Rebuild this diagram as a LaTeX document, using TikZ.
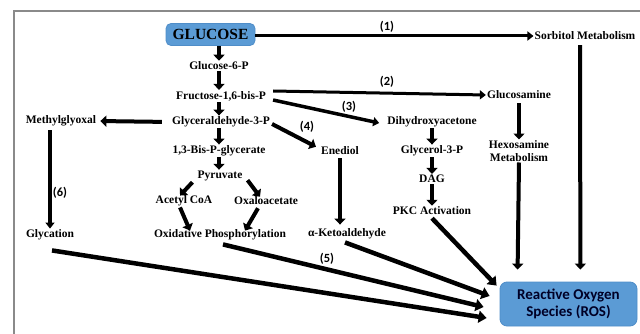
\documentclass[tikz,border=0pt]{standalone}
\usepackage{fontspec}
\setmainfont{Liberation Serif}
\newfontfamily\labfont{Carlito}
\usetikzlibrary{arrows.meta,calc}
\definecolor{boxblue}{HTML}{5B9BD5}
\definecolor{boxedge}{HTML}{4F8DC8}
\definecolor{framegray}{HTML}{8A8A8A}
\begin{document}
\begin{tikzpicture}[x=1pt,y=-1pt,
  txt/.style={font=\bfseries\fontsize{11.5}{12.5}\selectfont, inner sep=1pt, align=center},
  num/.style={font=\labfont\bfseries\fontsize{12.5}{13}\selectfont, inner sep=0pt},
  bluebox/.style={fill=boxblue, draw=boxedge, line width=0.8pt},
  bigarrow/.style={line width=4pt, -{Triangle[length=6pt,width=11pt]}},
  longarrow/.style={line width=3pt, -{Triangle[length=6pt,width=9pt]}},
  rosarrow/.style={line width=4.5pt, -{Triangle[length=8pt,width=12pt]}},
]
\useasboundingbox (0,0) rectangle (640,334);
\draw[framegray, line width=2pt] (14,334) -- (14,11) -- (641,11);

% nodes
\node[bluebox, rounded corners=5pt, minimum width=89pt, minimum height=22pt,
      font=\bfseries\fontsize{15.5}{17}\selectfont] (glc) at (210.5,34.5) {GLUCOSE};
\node[txt] (sorb) at (585,36) {Sorbitol Metabolism};
\node[txt] (g6p) at (219,66) {Glucose-6-P};
\node[txt] (fru) at (221,96) {Fructose-1,6-bis-P};
\node[txt] (gap) at (221,122) {Glyceraldehyde-3-P};
\node[txt] (bpg) at (219,151) {1,3-Bis-P-glycerate};
\node[txt] (pyr) at (220,176) {Pyruvate};
\node[txt] (acoa) at (184,201) {Acetyl CoA};
\node[txt] (oaa) at (266,201) {Oxaloacetate};
\node[txt] (oxp) at (220,235) {Oxidative Phosphorylation};
\node[txt] (mgo) at (61,121) {Methylglyoxal};
\node[txt] (glyc) at (50,235) {Glycation};
\node[txt] (glcn) at (519,95) {Glucosamine};
\node[txt] (hex) at (519,151) {Hexosamine\\Metabolism};
\node[txt] (dha) at (432,122) {Dihydroxyacetone};
\node[txt] (g3p) at (432,151) {Glycerol-3-P};
\node[txt] (dag) at (432,179) {DAG};
\node[txt] (pkc) at (432,211) {PKC Activation};
\node[txt] (ene) at (340,151) {Enediol};
\node[txt] (ket) at (347,234) {α-Ketoaldehyde};
\node[bluebox, rounded corners=7pt, minimum width=137pt, minimum height=44pt,
      font=\labfont\bfseries\fontsize{15}{17}\selectfont, align=center,
      text=black!85!blue] (ros) at (568.5,304) {Reactive Oxygen\\Species (ROS)};

% labels
\node[num] (l1) at (387,27) {(1)};
\node[num] (l2) at (387,82) {(2)};
\node[num] (l3) at (349,107) {(3)};
\node[num] (l4) at (307,127) {(4)};
\node[num] (l5) at (327,259) {(5)};
\node[num] (l6) at (60,193) {(6)};

% main column
\draw[bigarrow] (glc.south -| g6p) -- (g6p.north);
\draw[bigarrow] (g6p.south) -- (fru.north -| g6p);
\draw[bigarrow] (fru.south -| g6p) -- (gap.north -| g6p);
\draw[bigarrow] (gap.south -| g6p) -- (bpg.north -| g6p);
\draw[bigarrow] (bpg.south) -- (pyr.north -| bpg);
\draw[bigarrow] ($(pyr.south west)+(-4,0)$) -- ($(acoa.north)+(-4,1)$);
\draw[bigarrow] ($(pyr.south east)+(4,-2)$) -- ($(oaa.north)+(-6,1)$);
\draw[bigarrow] ($(acoa.south)+(-4,0)$) -- ($(oxp.north)+(-30,2)$);
\draw[bigarrow] ($(oaa.south)+(-8,2)$) -- ($(oxp.north)+(25,2)$);

% side branches
\draw[longarrow] (glc.east |- sorb.west) -- (sorb.west);
\draw[bigarrow, shorten <=9pt, shorten >=3pt] (gap.west) -- (mgo.east);
\draw[longarrow, line width=3.5pt, shorten <=3pt] (mgo.south -| glyc) -- (glyc.north);
\draw[longarrow] ($(fru.east)+(6,-5)$) -- (glcn.west);
\draw[longarrow, line width=3.5pt] ($(fru.east)+(6,4)$) -- ($(dha.west)+(-7,1)$);
\draw[bigarrow] ($(gap.east)+(1,2)$) -- ($(ene.north west)+(-4,1)$);
\draw[bigarrow, shorten <=2pt, shorten >=3pt] (ene.south) -- (ene.south |- ket.north);
\draw[bigarrow] (dha.south) -- (g3p.north);
\draw[bigarrow] (g3p.south) -- (dag.north);
\draw[bigarrow] (dag.south) -- (pkc.north);
\draw[bigarrow, shorten <=3pt] (glcn.south) -- (hex.north);

% to ROS
\draw[bigarrow] ($(sorb.south)+(-5,4)$) -- ($(ros.north east)+(-57,-12)$);
\draw[bigarrow] (hex.south) -- ($(ros.north west)+(18,-12)$);
\draw[rosarrow] ($(pkc.south)+(0,2)$) -- ($(ros.north west)+(-3,4)$);
\draw[rosarrow] ($(ket.south)+(-2,2)$) -- ($(ros.west)+(-10,-8)$);
\draw[rosarrow] ($(oxp.south)+(3,3)$) -- ($(ros.west)+(-16,3)$);
\draw[rosarrow] ($(glyc.south)+(2,9)$) -- ($(ros.west)+(-13,14)$);
\end{tikzpicture}
\end{document}
